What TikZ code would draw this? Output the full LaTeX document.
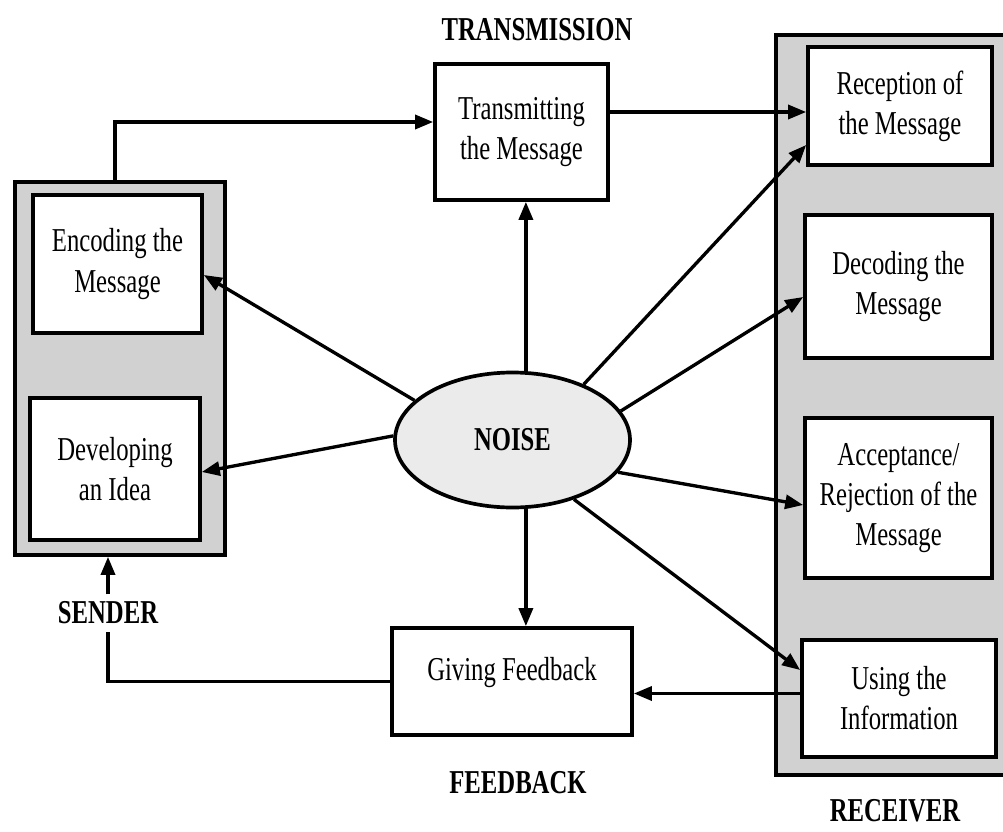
\documentclass[tikz,border=0pt]{standalone}
\usepackage{fontspec}
\setmainfont[FakeStretch=0.74]{Liberation Serif}
\usetikzlibrary{arrows.meta,shapes.geometric}

\begin{document}
\begin{tikzpicture}[
  x=0.2mm,y=-0.2mm,
  font=\fontsize{19}{22.8}\selectfont,
  line width=1.9pt,
  grp/.style={draw,fill=black!18,line width=2.1pt},
  box/.style={draw,fill=white,align=center,inner sep=2pt,line width=2.1pt},
  noisy/.style={ellipse,draw,fill=black!8,inner sep=0pt,line width=2.1pt,font=\fontsize{19}{22.8}\selectfont\bfseries},
  lbl/.style={font=\fontsize{19}{22.8}\selectfont\bfseries},
  arr/.style={-{Triangle[length=3.6mm,width=2.8mm]}}
]
\useasboundingbox (0,0) rectangle (1003,831);
% sender and receiver columns
\node[grp,minimum width=42mm,minimum height=74.6mm] (sender)   at (120,368.5) {};
\node[grp,minimum width=46.8mm,minimum height=148mm] (receiver) at (893,405) {};
% boxes
\node[box,minimum width=33.8mm,minimum height=27.6mm] (enc)   at (117.5,264) {Encoding the\\Message};
\node[box,minimum width=34mm,minimum height=28.4mm]   (dev)   at (115,469)   {Developing\\an Idea};
\node[box,minimum width=34.6mm,minimum height=27.2mm] (trans) at (521.5,132) {Transmitting\\the Message};
\node[box,minimum width=36.8mm,minimum height=23.6mm] (rec)   at (900,106)   {Reception of\\the Message};
\node[box,minimum width=37.4mm,minimum height=28.6mm] (dec)   at (898.5,286.5) {Decoding the\\Message};
\node[box,minimum width=37.4mm,minimum height=32mm]   (acc)   at (898.5,498) {Acceptance/\\Rejection of the\\Message};
\node[box,minimum width=38.8mm,minimum height=23.4mm] (use)   at (899,698.5) {Using the\\Information};
\node[box,minimum width=48mm,minimum height=21.4mm]   (fb)    at (512,681.5) {\raisebox{5mm}{Giving Feedback}};
\node[noisy,minimum width=47mm,minimum height=27mm]   (noise) at (512.5,440) {NOISE};
% labels
\node[lbl] (trlbl) at (537,30)  {TRANSMISSION};
\node[lbl] (sndr)  at (108,613) {SENDER};
\node[lbl] (fblbl) at (518,783) {FEEDBACK};
\node[lbl] (rclbl) at (895,811) {RECEIVER};
% connectors
\coordinate (rin)  at ([yshift=-1.2mm]rec.west);
\coordinate (uout) at ([yshift=1mm]use.west);
\draw[arr] ([xshift=-1mm]sender.north) |- ([yshift=2mm]trans.west);
\draw[arr] (trans.east |- rin) -- (rin);
\draw[arr] (noise.158) -- ([yshift=-2.2mm]enc.east);
\draw[arr] (noise.178) -- ([yshift=-0.6mm]dev.east);
\draw[arr] (noise.79) -- (noise.79 |- trans.south);
\draw[arr] (noise.38) -- ([yshift=-7.8mm]rec.west);
\draw[arr] (noise.15) -- ([yshift=-2.1mm]dec.west);
\draw[arr] (noise.-17) -- ([yshift=-1.4mm]acc.west);
\draw[arr] (noise.-44) -- ([yshift=5.7mm]use.west);
\draw[arr] (noise.-79) -- (noise.-79 |- fb.north);
\draw[arr] (uout) -- (uout -| fb.east);
\draw (fb.west) -| (sndr.south);
\draw[arr] (sndr.north) -- (sndr.north |- sender.south);
\end{tikzpicture}
\end{document}
